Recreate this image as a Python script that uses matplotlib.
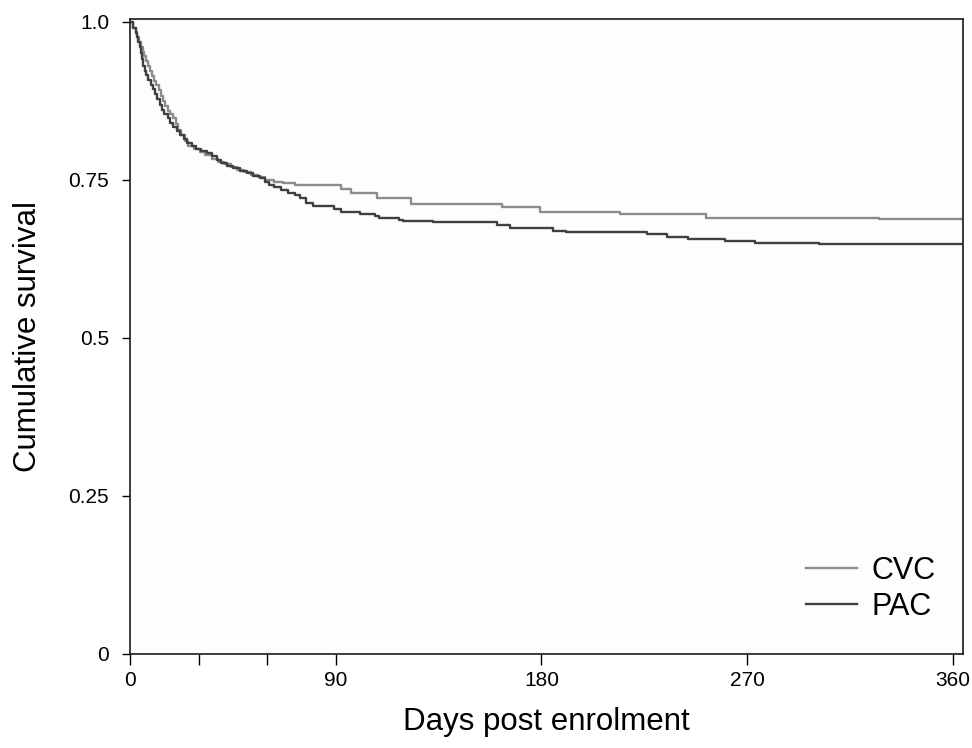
import matplotlib
matplotlib.use("Agg")
import matplotlib.pyplot as plt

plt.rcParams['font.family'] = ['Liberation Sans', 'DejaVu Sans']

# Kaplan-Meier step points (day, cumulative survival)
cvc_days = [0, 1.5, 2.5, 3.2, 4, 4.8, 5.5, 6.3, 7, 7.8, 8.6, 9.5, 10.5, 11.5, 12.5,
            13.5, 14.5, 15.5, 16.5, 17.5, 19, 20, 21, 22.5, 24, 25.5, 28, 30.5, 33,
            36, 38.5, 41, 44, 47, 50, 53, 56, 59, 63, 67, 72, 92.2, 96.9, 108.1,
            123.1, 162.6, 179.5, 214.2, 251.8, 327.7, 364.4]
cvc_surv = [1.0, 0.99, 0.983, 0.975, 0.968, 0.96, 0.952, 0.945, 0.937, 0.93, 0.922,
            0.914, 0.906, 0.899, 0.891, 0.882, 0.874, 0.866, 0.859, 0.853, 0.847,
            0.838, 0.829, 0.82, 0.811, 0.803, 0.798, 0.793, 0.789, 0.783, 0.778,
            0.774, 0.77, 0.766, 0.762, 0.758, 0.754, 0.75, 0.747, 0.744, 0.741,
            0.735, 0.729, 0.7215, 0.711, 0.706, 0.6996, 0.6955, 0.690, 0.687, 0.687]

pac_days = [0, 1.5, 2.5, 3, 3.5, 4.2, 4.8, 5.3, 5.8, 6.5, 7.2, 8, 9, 10, 11, 12, 13,
            14, 15, 16.5, 17.5, 19, 20.5, 22, 23.5, 25, 27, 29, 31, 33.5, 36, 38, 40,
            42.5, 45, 48, 51, 54, 57, 59, 61, 63, 66, 69, 72, 74.4, 77.2, 80, 89.4,
            92.2, 100.6, 107.2, 109.1, 117.5, 119.4, 132.5, 160.7, 166.3, 185.1,
            190.7, 226.4, 234.8, 244.2, 260.1, 273.3, 301.4, 364.4]
pac_surv = [1.0, 0.99, 0.982, 0.975, 0.968, 0.96, 0.95, 0.94, 0.93, 0.922, 0.915,
            0.908, 0.90, 0.893, 0.885, 0.877, 0.868, 0.86, 0.853, 0.847, 0.84, 0.834,
            0.827, 0.82, 0.814, 0.808, 0.803, 0.799, 0.795, 0.792, 0.787, 0.781,
            0.776, 0.772, 0.768, 0.764, 0.76, 0.756, 0.752, 0.747, 0.742, 0.738,
            0.733, 0.729, 0.725, 0.7215, 0.7137, 0.7085, 0.703, 0.6996, 0.696,
            0.6928, 0.69, 0.6865, 0.685, 0.683, 0.678, 0.673, 0.6693, 0.6666, 0.664,
            0.659, 0.6557, 0.6536, 0.6495, 0.6484, 0.6484]

x_major = [0, 90, 180, 270, 360]
x_minor = [30, 60]
y_ticks = [0, 0.25, 0.5, 0.75, 1.0]
y_labels = ["0", "0.25", "0.5", "0.75", "1.0"]

fig = plt.figure(figsize=(9.72, 7.48), dpi=100)
ax = fig.add_axes([0.1337, 0.1257, 0.857, 0.8489])
ax.set_facecolor('#fdfdfd')

ax.plot(cvc_days, cvc_surv, drawstyle='steps-post', color='#8c8c8c', lw=1.7, label='CVC')
ax.plot(pac_days, pac_surv, drawstyle='steps-post', color='#404040', lw=1.7, label='PAC')

ax.set_xlim(0, 364.4)
ax.set_ylim(0, 1.004)
ax.set_xticks(x_major)
ax.set_xticks(x_minor, minor=True)
ax.set_yticks(y_ticks)
ax.set_yticklabels(y_labels)

for s in ax.spines.values():
    s.set_linewidth(1.2)
    s.set_color('#1a1a1a')

ax.tick_params(axis='x', which='both', length=8, width=1.0, pad=4, labelsize=15)
ax.tick_params(axis='y', length=6, width=1.0, pad=9, labelsize=15)

ax.set_xlabel('Days post enrolment', fontsize=22.5)
ax.set_ylabel('Cumulative survival', fontsize=22.5)
ax.xaxis.set_label_coords(0.5, -0.083)
ax.yaxis.set_label_coords(-0.1045, 0.5)

ax.legend(loc='lower right', bbox_to_anchor=(0.985, 0.026), frameon=False,
          fontsize=22, handlelength=1.67, handletextpad=0.45, labelspacing=0.2,
          borderpad=0)

fig.savefig('out.png', dpi=100)
